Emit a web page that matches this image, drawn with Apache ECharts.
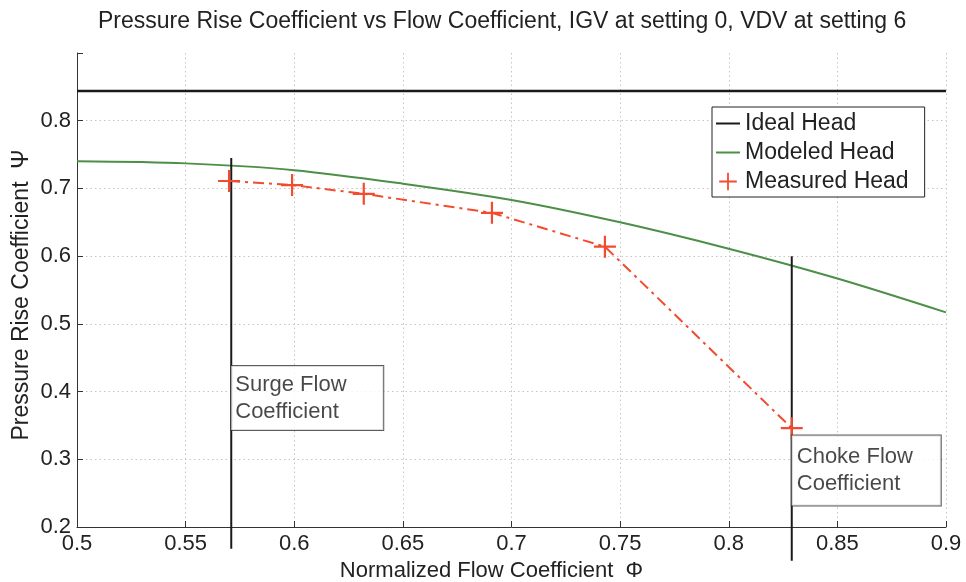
<!DOCTYPE html>
<html>
<head>
<meta charset="utf-8">
<script src="https://cdn.jsdelivr.net/npm/echarts@6/dist/echarts.min.js"></script>
<style>html,body{margin:0;padding:0;background:#fff}#c{width:966px;height:582px}</style>
</head>
<body>
<div id="c"></div>
<script>
const titleText = 'Pressure Rise Coefficient vs Flow Coefficient, IGV at setting 0, VDV at setting 6';
const xName = 'Normalized Flow Coefficient  \u03A6';
const yName = 'Pressure Rise Coefficient  \u03A8';

const idealX = [0.5, 0.9];
const idealY = [0.844, 0.844];

const modeledX = [0.5, 0.55, 0.6, 0.65, 0.7, 0.75, 0.8, 0.85, 0.9];
const modeledY = [0.740, 0.737, 0.727, 0.707, 0.683, 0.650, 0.611, 0.567, 0.517];

const measuredX = [0.570, 0.599, 0.632, 0.691, 0.743, 0.829];
const measuredY = [0.711, 0.705, 0.692, 0.664, 0.614, 0.346];

const surgeX = [0.571, 0.571];
const surgeY = [0.745, 0.168];
const chokeX = [0.829, 0.829];
const chokeY = [0.600, 0.150];

const annotX = [0.571, 0.829];
const annotY = [0.3905, 0.2835];
const annotText = ['Surge Flow\nCoefficient', 'Choke Flow\nCoefficient'];

const xTicks = [0.5, 0.55, 0.6, 0.65, 0.7, 0.75, 0.8, 0.85, 0.9];
const yTicks = [0.2, 0.3, 0.4, 0.5, 0.6, 0.7, 0.8];

const zip = (xs, ys) => xs.map((x, i) => [x, ys[i]]);
const FONT = 'Liberation Sans, Arial, sans-serif';
const RED = '#f24b2e';
const GREEN = '#4d8f47';
const plus = 'path://M0,9H20V11H0Z M9,0H11V20H9Z';

const chart = echarts.init(document.getElementById('c'));
chart.setOption({
  animation: false,
  backgroundColor: '#fff',
  title: {
    text: titleText, left: 93, top: 5,
    textStyle: {fontFamily: FONT, fontSize: 23, fontWeight: 'normal', color: '#222'}
  },
  grid: {left: 77, right: 20, top: 53, bottom: 55, outerBoundsMode: 'none', containLabel: false},
  legend: {
    orient: 'vertical', left: 712, top: 107,
    padding: [5, 16, 4, 3], itemGap: 6, itemWidth: 24, itemHeight: 22,
    borderColor: '#222', borderWidth: 1, backgroundColor: '#fff',
    textStyle: {fontFamily: FONT, fontSize: 23, color: '#222'},
    data: [
      {name: 'Ideal Head', itemStyle: {opacity: 0}},
      {name: 'Modeled Head', itemStyle: {opacity: 0}},
      {name: 'Measured Head', lineStyle: {width: 0, opacity: 0}}
    ]
  },
  xAxis: {
    type: 'value', min: 0.5, max: 0.9, interval: 0.05,
    name: xName, nameLocation: 'middle', nameGap: 29,
    nameTextStyle: {fontFamily: FONT, fontSize: 22, color: '#222', padding: [0, 40, 0, 0]},
    axisLine: {lineStyle: {color: '#333', width: 1}},
    axisTick: {inside: true, length: 6, lineStyle: {color: '#333'}},
    axisLabel: {fontFamily: FONT, fontSize: 22, color: '#222', margin: 6,
      formatter: v => { const t = xTicks.find(k => Math.abs(k - v) < 1e-6); return t === undefined ? '' : String(t); }},
    splitLine: {show: true, lineStyle: {color: '#c4c4c4', type: [1.5, 3]}}
  },
  yAxis: {
    type: 'value', min: 0.2, max: 0.9, interval: 0.1,
    name: yName, nameLocation: 'middle', nameGap: 44, nameMoveOverlap: false,
    nameTextStyle: {fontFamily: FONT, fontSize: 23, color: '#222', padding: [0, 10, 0, 0]},
    axisLine: {show: true, lineStyle: {color: '#333', width: 1}},
    axisTick: {show: true, inside: true, length: 6, lineStyle: {color: '#333'}},
    axisLabel: {fontFamily: FONT, fontSize: 22, color: '#222', margin: 6,
      formatter: v => { const t = yTicks.find(k => Math.abs(k - v) < 1e-6); return t === undefined ? '' : t.toFixed(1); }},
    splitLine: {show: true, showMaxLine: false, lineStyle: {color: '#c4c4c4', type: [1.5, 3]}}
  },
  series: [
    {name: 'Ideal Head', type: 'line', data: zip(idealX, idealY), symbol: 'none',
     color: '#1a1a1a', lineStyle: {color: '#1a1a1a', width: 2.5}},
    {name: 'Modeled Head', type: 'line', data: zip(modeledX, modeledY), symbol: 'none', smooth: 0.3,
     color: GREEN, lineStyle: {color: GREEN, width: 2}},
    {name: 'Measured Head', type: 'line', data: zip(measuredX, measuredY),
     symbol: plus, symbolSize: 22, color: RED, itemStyle: {color: RED},
     lineStyle: {color: RED, width: 2, type: [11, 5, 3, 5]}},
    {name: 'surge', type: 'line', data: zip(surgeX, surgeY), symbol: 'none', clip: false, silent: true,
     lineStyle: {color: '#1a1a1a', width: 2}},
    {name: 'choke', type: 'line', data: zip(chokeX, chokeY), symbol: 'none', clip: false, silent: true,
     lineStyle: {color: '#1a1a1a', width: 2}},
    {name: 'annot', type: 'scatter', symbolSize: 0, silent: true, z: 5,
     data: [
       {value: [annotX[0], annotY[0]], label: {formatter: annotText[0], padding: [5, 30, 5, 4], width: 118}},
       {value: [annotX[1], annotY[1]], label: {formatter: annotText[1], padding: [5, 26, 11, 5], width: 118}}
     ],
     label: {show: true, position: 'right', distance: 0, fontFamily: FONT, fontSize: 22, lineHeight: 27,
       color: '#1a1a1a', backgroundColor: '#fff', borderColor: '#333', borderWidth: 1}}
  ]
});
</script>
</body>
</html>
